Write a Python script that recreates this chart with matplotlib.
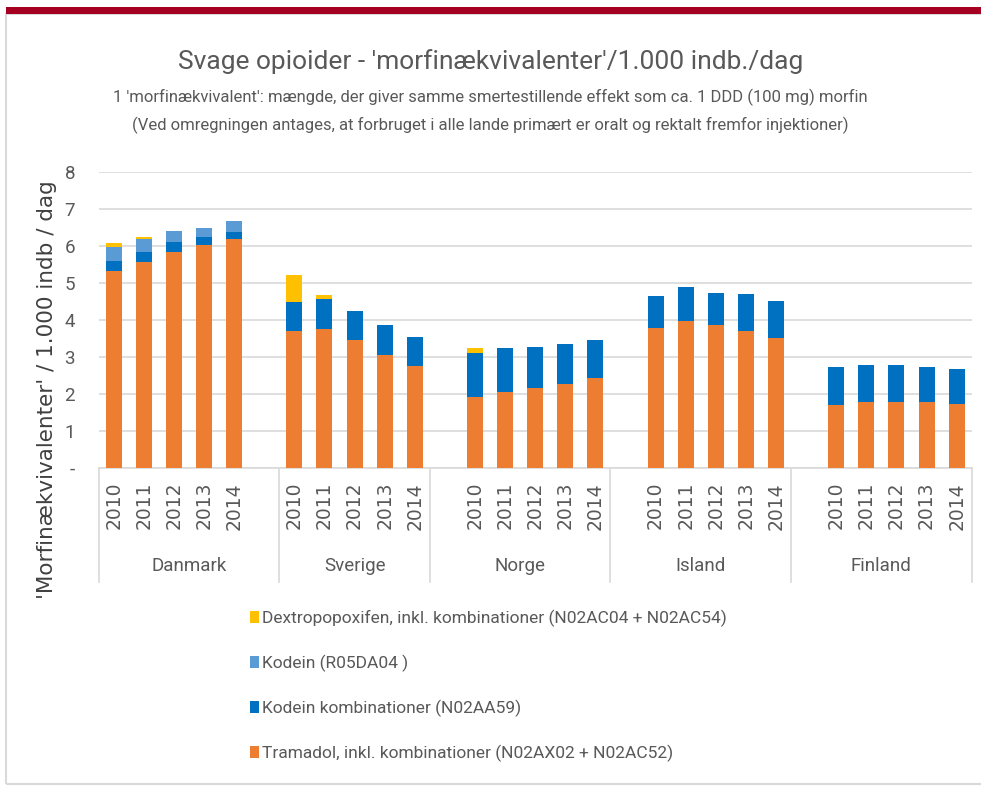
import matplotlib
matplotlib.use("Agg")
import matplotlib.pyplot as plt
from matplotlib.patches import Rectangle, Patch
from matplotlib.lines import Line2D

# values ('morfinaekvivalenter' / 1.000 indb. / dag)
countries = ['Danmark', 'Sverige', 'Norge', 'Island', 'Finland']
years = ['2010', '2011', '2012', '2013', '2014']

tramadol = [5.33, 5.57, 5.84, 6.02, 6.19,
            3.69, 3.75, 3.45, 3.05, 2.77,
            1.91, 2.06, 2.17, 2.28, 2.44,
            3.79, 3.97, 3.86, 3.69, 3.52,
            1.71, 1.78, 1.78, 1.78, 1.74]
kodein_komb = [0.27, 0.27, 0.26, 0.21, 0.18,
               0.81, 0.83, 0.78, 0.81, 0.77,
               1.19, 1.17, 1.10, 1.06, 1.01,
               0.86, 0.91, 0.88, 1.01, 1.00,
               1.01, 1.01, 1.01, 0.94, 0.94]
kodein = [0.36, 0.35, 0.31, 0.27, 0.31,
          0, 0, 0, 0, 0,
          0, 0, 0, 0, 0,
          0, 0, 0, 0, 0,
          0, 0, 0, 0, 0]
dextro = [0.11, 0.04, 0, 0, 0,
          0.72, 0.09, 0, 0, 0,
          0.15, 0, 0, 0, 0,
          0, 0, 0, 0, 0,
          0, 0, 0, 0, 0]

labels = ['Tramadol, inkl. kombinationer (N02AX02 + N02AC52)',
          'Kodein kombinationer (N02AA59)',
          'Kodein (R05DA04 )',
          'Dextropopoxifen, inkl. kombinationer (N02AC04 + N02AC54)']
colors = ['#ED7D31', '#0070C0', '#5B9BD5', '#FFC000']

# Excel category layout: slots per group and empty slots before the years
group_slots = [6, 5, 6, 6, 6]
lead_blank = [0, 0, 1, 1, 1]

narrow = ['Roboto', 'DejaVu Sans']
grey = '#595959'

x = []
bounds = [0]
for g, n in enumerate(group_slots):
    start = bounds[-1]
    for k in range(len(years)):
        x.append(start + lead_blank[g] + k)
    bounds.append(start + n)

fig = plt.figure(figsize=(9.81, 7.87), dpi=100)
ax = fig.add_axes([98.7 / 981, 1 - 468 / 787, (971.7 - 98.7) / 981, (468 - 172) / 787])

bottom = [0] * len(x)
for vals, lab, col in zip([tramadol, kodein_komb, kodein, dextro], labels, colors):
    ax.bar(x, vals, bottom=bottom, width=0.53, color=col, label=lab, zorder=3)
    bottom = [b + v for b, v in zip(bottom, vals)]

ax.set_xlim(-0.5, bounds[-1] - 0.5)
ax.set_ylim(0, 8)
ax.set_yticks(range(0, 9))
ax.set_yticklabels(['-'] + [str(i) for i in range(1, 9)], family=narrow, fontsize=13.5, color=grey)
ax.tick_params(axis='y', length=0, pad=17)
ax.grid(axis='y', color='#D9D9D9', linewidth=1.2, zorder=0)
for s in ['left', 'right', 'top']:
    ax.spines[s].set_visible(False)
ax.spines['bottom'].set_color('#D9D9D9')
ax.spines['bottom'].set_linewidth(1.2)

ax.set_xticks(x)
ax.set_xticklabels(years * len(countries), rotation=90, fontsize=13.5, color=grey)
ax.tick_params(axis='x', length=0, pad=10)

# group separators and country names below the year labels
sep_y = (1 - 582 / 787 - ax.get_position().y0) / ax.get_position().height
name_y = (1 - 566 / 787 - ax.get_position().y0) / ax.get_position().height
trans = ax.get_xaxis_transform()
for i, b in enumerate(bounds):
    ax.add_line(Line2D([b - 0.5, b - 0.5], [0, sep_y], transform=trans,
                       color='#D9D9D9', linewidth=1.2, clip_on=False))
for g, c in enumerate(countries):
    mid = (bounds[g] + bounds[g + 1] - 1) / 2
    ax.text(mid, name_y, c, transform=trans, ha='center', va='center',
            family=narrow, fontsize=13.5, color=grey)

fig.text(47 / 981, 1 - 390 / 787, "'Morfinækvivalenter' / 1.000 indb / dag",
         rotation=90, ha='center', va='center', fontsize=15.5, color='#404040')

fig.text(0.5, 1 - 62 / 787, "Svage opioider - 'morfinækvivalenter'/1.000 indb./dag",
         ha='center', va='center', family=narrow, fontsize=19, color=grey)
fig.text(0.5, 1 - 97 / 787,
         "1 'morfinækvivalent': mængde, der giver samme smertestillende effekt som ca. 1 DDD (100 mg) morfin",
         ha='center', va='center', family=narrow, fontsize=12, color=grey)
fig.text(0.5, 1 - 125 / 787,
         "(Ved omregningen antages, at forbruget i alle lande primært er oralt og rektalt fremfor injektioner)",
         ha='center', va='center', family=narrow, fontsize=12, color=grey)

# legend, reversed order like the Excel original
handles = [Patch(facecolor=c) for c in colors][::-1]
fig.legend(handles, labels[::-1], loc='upper left', bbox_to_anchor=(234 / 981, 1 - 594 / 787),
           frameon=False, prop={'family': narrow, 'size': 12.5}, labelcolor=grey,
           handlelength=0.55, handleheight=0.7, handletextpad=0.15, labelspacing=1.6)

# outer frame and dark red band
fig.patches.append(Rectangle((6 / 981, 0.004), 1, 1 - 14 / 787 - 0.004, transform=fig.transFigure,
                             fill=False, edgecolor='#D9D9D9', linewidth=1.5))
fig.patches.append(Rectangle((6 / 981, 1 - 14 / 787), 1, 7 / 787, transform=fig.transFigure,
                             facecolor='#A50021', edgecolor='none'))

fig.savefig('out.png', dpi=100)
